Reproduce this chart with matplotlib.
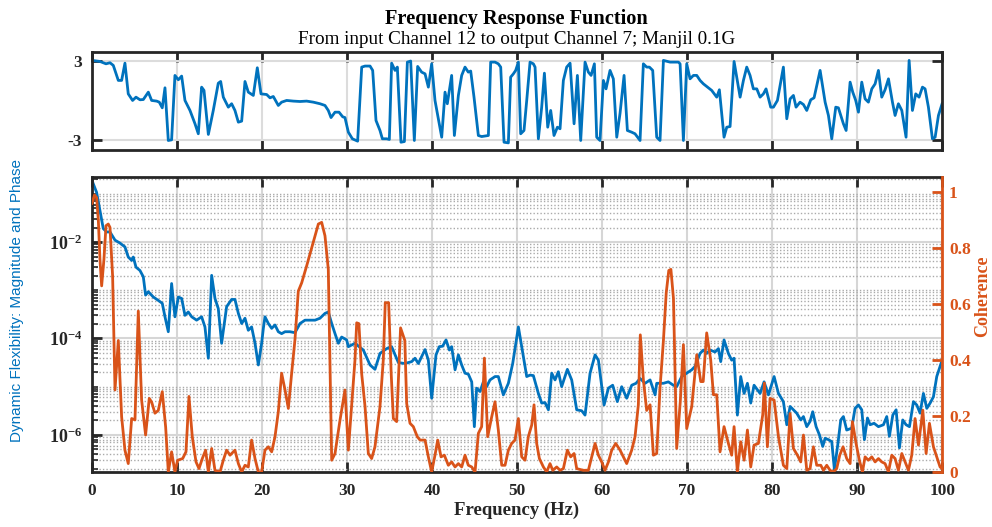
import numpy as np
import matplotlib.pyplot as plt
from matplotlib.ticker import FixedLocator, LogLocator, NullFormatter

# phase (rad) of the FRF, channel 12 -> channel 7
phase_f = [0, 0.94, 1.65, 2.12, 2.51, 3.1, 3.49, 3.88, 4.27, 4.78, 5.18, 5.65, 6.04,
           6.63, 7.02, 7.61, 7.92, 8.27, 8.59, 8.98, 9.37, 9.76, 10.16, 10.55, 10.94,
           11.53, 12.12, 12.51, 12.9, 13.18, 13.69, 14.27, 14.86, 15.14, 15.45, 16.04,
           16.43, 16.82, 17.22, 17.61, 18.0, 18.39, 18.98, 19.45, 19.88, 20.55, 20.94,
           21.33, 21.92, 22.31, 22.9, 23.69, 24.47, 25.25, 26.04, 26.82, 27.41, 27.8,
           28.12, 28.59, 29.06, 29.49, 29.76, 30.16, 30.63, 31.25, 31.73, 32.12, 32.71,
           33.02, 33.41, 33.88, 34.16, 34.67, 34.98, 35.25, 35.65, 35.92, 36.35, 36.75,
           37.1, 37.49, 37.92, 38.31, 38.78, 39.18, 39.57, 39.96, 40.35, 41.14, 41.53,
           41.8, 42.31, 42.63, 43.1, 43.49, 43.88, 44.27, 44.55, 44.94, 45.45, 45.84,
           46.63, 46.9, 47.41, 47.8, 48.08, 48.47, 48.98, 49.25, 49.57, 49.84, 50.16,
           50.43, 50.82, 51.14, 51.53, 51.92, 52.12, 52.51, 52.9, 53.22, 53.61, 53.96,
           54.35, 54.75, 55.06, 55.45, 55.84, 56.24, 56.71, 57.1, 57.49, 58.0, 58.39,
           58.71, 59.1, 59.37, 59.76, 60.16, 60.47, 60.94, 61.33, 61.73, 62.12, 62.59,
           62.98, 63.49, 63.88, 64.47, 64.86, 65.25, 65.57, 65.96, 66.43, 66.82, 67.22,
           67.53, 68.0, 68.59, 68.98, 69.18, 69.57, 69.96, 70.35, 70.75, 71.14, 71.53,
           71.92, 72.31, 72.9, 73.49, 73.8, 74.35, 74.67, 75.06, 75.53, 75.84, 76.24,
           76.63, 77.02, 77.41, 77.8, 78.2, 78.59, 78.98, 79.29, 79.84, 80.16, 80.63,
           81.33, 81.73, 82.12, 82.51, 82.82, 83.29, 83.69, 84.08, 84.55, 84.94, 85.65,
           86.24, 86.63, 87.02, 87.49, 87.8, 88.39, 88.71, 89.18, 89.49, 89.84, 90.16,
           90.55, 90.94, 91.33, 91.73, 92.12, 92.51, 92.9, 93.29, 93.69, 94.16, 94.47,
           94.86, 95.26, 95.76, 96.12, 96.51, 96.9, 97.29, 97.69, 98.0, 98.39, 98.86,
           99.18, 99.57, 100]
phase_val = [3.08, 3.0, 2.82, 2.9, 2.7, 1.56, 1.56, 2.87, 0.54, 0.04, 0.29, 0.09, 0.11,
             0.67, 0.04, -0.01, -0.09, -0.52, 1.0, -3.0, -2.95, 1.94, 1.61, 1.89, 0.04,
             -0.72, -1.73, -2.49, 1.05, 0.8, -2.54, -0.72, 1.35, 1.48, 0.29, -0.47,
             -0.21, -0.72, -1.61, -1.53, 1.48, 0.67, 0.42, 2.52, 0.54, 0.49, 0.24,
             0.34, -0.34, -0.09, 0.04, -0.01, -0.04, -0.01, -0.09, -0.21, -0.34, -0.72,
             -1.26, -0.85, -0.85, -1.2, -1.26, -2.37, -2.87, -3.05, 2.57, 2.65, 2.65,
             2.32, -1.48, -2.24, -2.87, -2.87, -2.92, 2.87, 2.32, 2.57, -3.13, -3.08,
             2.95, 3.03, -3.0, 2.62, 2.19, 2.06, 1.05, 2.82, 0.04, -2.75, 0.67,
             -0.21, 1.94, -2.62, 0.42, 1.94, 2.57, 2.19, 2.27, 0.29, -2.62, -2.7,
             -2.62, 2.95, 2.95, 2.82, 2.57, -3.13, -3.18, 1.81, 2.06, 2.32, 2.95,
             -2.49, -2.24, 0.04, 2.95, 2.82, 2.57, -2.87, -0.47, 2.11, -1.99, -0.72,
             -2.62, -1.99, -2.11, 1.56, 2.57, 2.87, -1.73, 1.94, -3.0, 2.95, 2.19,
             1.94, 2.82, -2.75, -3.0, 1.56, 0.92, 2.32, 1.68, -2.75, -0.92, 1.94,
             -2.24, -2.37, -2.49, -3.0, 2.82, 2.57, 2.57, 2.32, -2.75, -3.0, 3.08,
             3.03, 2.95, 2.95, 2.95, 2.82, -3.0, 2.82, 1.68, 1.94, 1.94, 1.56,
             1.3, 1.1, 0.8, 0.29, 0.85, -2.75, -1.99, -1.94, 3.0, 1.81, 0.29,
             1.56, 2.57, 1.94, 0.92, 0.92, 0.29, 0.54, 0.92, -0.47, -0.47, 0.04,
             2.57, -1.35, 0.16, 0.42, -0.47, -0.09, -0.27, -0.72, 0.09, 0.24, 2.32,
             -0.09, -1.1, -2.87, -0.47, -0.52, -1.73, -2.24, 1.43, 0.67, 0.04, -0.85,
             1.43, 0.16, -0.09, 0.92, 1.3, 2.32, 0.29, 0.85, 1.68, -0.09, -1.1,
             -0.21, -0.72, -2.75, 3.08, -0.72, 0.54, 0.29, 1.05, 0.92, -0.47, -2.87,
             -2.75, -1.1, -0.21]

# magnitude, stored as log10 of the dynamic flexibility
mag_f = [0, 0.55, 0.94, 1.33, 1.73, 2.12, 2.71, 3.29, 3.88, 4.27, 4.67, 4.86, 5.18,
         5.65, 6.04, 6.31, 6.63, 7.22, 7.8, 8.27, 8.59, 8.98, 9.37, 9.76, 10.16, 10.55,
         10.94, 11.33, 11.73, 12.31, 12.9, 13.29, 13.69, 14.08, 14.47, 14.86, 15.25,
         15.84, 16.43, 16.82, 17.22, 17.61, 18.0, 18.39, 18.78, 19.18, 19.57, 19.96,
         20.16, 20.35, 20.75, 21.14, 21.53, 21.92, 22.31, 22.71, 23.29, 23.88, 24.47,
         25.06, 25.65, 26.24, 26.82, 27.41, 27.8, 28.2, 28.59, 28.98, 29.37, 29.96,
         30.16, 30.94, 31.92, 32.71, 33.29, 33.88, 34.67, 35.25, 36.04, 36.82, 37.61,
         38.0, 38.39, 39.18, 39.57, 39.96, 40.47, 40.86, 41.25, 41.65, 42.04, 42.31,
         42.71, 43.1, 43.49, 43.88, 44.27, 44.67, 44.98, 45.25, 45.65, 46.04, 46.43,
         46.82, 47.41, 47.8, 48.39, 48.98, 49.49, 50.16, 51.14, 51.53, 51.92, 52.51,
         52.9, 53.29, 53.69, 54.08, 54.47, 54.86, 55.25, 55.92, 56.43, 57.02, 57.61,
         58.0, 58.59, 59.18, 59.57, 60.24, 60.75, 61.25, 61.8, 62.31, 62.9, 63.49,
         64.0, 64.47, 65.06, 65.65, 66.24, 66.43, 67.22, 67.8, 68.39, 68.78, 69.37,
         69.96, 70.55, 70.94, 71.53, 71.92, 72.31, 72.71, 73.29, 73.69, 73.96, 74.35,
         74.86, 75.25, 75.53, 75.92, 76.31, 76.71, 77.1, 77.49, 77.88, 78.59, 79.06,
         79.57, 80.24, 80.75, 81.33, 81.73, 82.12, 82.9, 83.37, 83.69, 84.08, 84.47,
         84.78, 85.18, 85.57, 85.96, 86.24, 86.63, 87.02, 87.33, 87.73, 88.08, 88.39,
         88.78, 89.37, 89.76, 90.16, 90.55, 90.86, 91.22, 91.53, 92.0, 92.51, 93.1,
         93.49, 93.8, 94.2, 94.59, 94.98, 95.37, 95.76, 96.16, 96.63, 97.02, 97.41,
         97.8, 98.2, 98.59, 98.98, 99.37, 100]
mag_log10 = [-0.72, -0.97, -1.34, -1.72, -1.79, -1.79, -1.96, -2.02, -2.1, -2.31, -2.38,
             -2.31, -2.52, -2.59, -2.72, -3.1, -3.03, -3.14, -3.21, -3.27, -3.55, -3.86,
             -2.86, -3.55, -3.14, -3.17, -3.52, -3.45, -3.55, -3.62, -3.55, -3.76, -4.41,
             -2.69, -3.17, -3.38, -4.1, -3.34, -3.19, -3.19, -3.48, -3.69, -3.58, -3.83,
             -3.76, -4.1, -4.55, -4.1, -3.79, -3.55, -3.69, -3.79, -3.72, -3.86, -3.9,
             -3.86, -3.86, -3.88, -3.69, -3.62, -3.62, -3.62, -3.58, -3.48, -3.45, -3.69,
             -3.9, -4.1, -3.97, -4.03, -4.17, -4.1, -4.24, -4.55, -4.64, -4.31, -4.21,
             -4.17, -4.5, -4.52, -4.48, -4.41, -4.52, -4.23, -4.45, -5.24, -4.34, -4.17,
             -4.16, -4.03, -4.24, -4.17, -4.65, -4.34, -4.55, -4.72, -4.74, -4.9, -5.83,
             -5.03, -5.1, -4.9, -5.0, -4.86, -4.79, -4.79, -5.17, -4.93, -4.52, -3.76,
             -4.79, -4.76, -4.77, -5.14, -5.34, -5.33, -5.48, -4.72, -4.86, -4.69, -5.0,
             -4.64, -4.86, -5.48, -5.5, -5.59, -4.72, -4.34, -4.45, -5.38, -5.03, -4.97,
             -5.31, -5.0, -5.24, -4.97, -4.93, -4.83, -4.93, -4.86, -5.17, -4.93, -4.93,
             -4.9, -4.97, -5.0, -4.79, -4.72, -4.65, -4.58, -4.31, -4.24, -4.31, -4.24,
             -4.28, -4.21, -4.48, -4.03, -4.31, -4.45, -4.41, -5.59, -4.79, -5.14, -4.93,
             -5.34, -4.97, -5.14, -4.9, -5.17, -4.79, -5.14, -5.31, -5.79, -5.41, -5.55,
             -5.69, -5.62, -5.83, -5.72, -5.52, -5.83, -6.0, -6.24, -6.07, -6.1, -6.14,
             -6.72, -6.2, -5.69, -5.62, -5.9, -5.86, -5.45, -5.38, -5.48, -6.1, -5.65,
             -5.79, -5.76, -5.83, -5.79, -5.62, -6.03, -5.59, -5.48, -6.27, -5.69, -5.79,
             -5.83, -5.31, -5.38, -5.55, -5.14, -5.45, -5.34, -5.21, -4.79, -4.45]

# ordinary coherence
coh_f = [0, 0.3, 0.55, 0.75, 0.94, 1.14, 1.41, 1.65, 1.92, 2.12, 2.43, 2.71, 3.1, 3.49,
         3.88, 4.27, 4.67, 5.06, 5.45, 5.84, 6.31, 6.74, 7.02, 7.41, 7.8, 8.27, 8.67,
         8.98, 9.37, 9.76, 10.08, 10.67, 11.06, 11.41, 11.8, 12.24, 12.59, 12.98, 13.37,
         13.69, 14.08, 14.47, 15.06, 15.45, 15.84, 16.24, 16.82, 17.22, 17.61, 18.0,
         18.39, 18.78, 19.18, 19.57, 19.96, 20.35, 20.75, 21.14, 21.53, 21.92, 22.31,
         22.71, 23.1, 23.49, 23.88, 24.27, 24.67, 25.25, 25.84, 26.24, 26.63, 27.02,
         27.41, 27.8, 28.2, 28.59, 29.18, 29.76, 30.16, 30.94, 31.14, 31.4, 31.73,
         32.12, 32.51, 32.9, 33.29, 33.88, 34.27, 34.5, 34.9, 35.2, 35.45, 35.84, 36.3,
         36.8, 37.02, 37.41, 37.8, 38.27, 38.59, 39.18, 39.57, 39.96, 40.35, 40.67,
         41.06, 41.45, 41.92, 42.31, 42.71, 43.1, 43.49, 43.88, 44.27, 44.67, 45.06,
         45.45, 45.84, 46.16, 46.55, 47.02, 47.41, 47.8, 48.2, 48.59, 48.98, 49.37,
         49.76, 50.16, 50.55, 50.94, 51.33, 51.73, 52.0, 52.31, 52.63, 53.1, 53.49,
         53.88, 54.2, 54.67, 55.06, 55.45, 55.92, 56.31, 56.71, 57.02, 57.8, 58.39,
         58.78, 59.18, 59.57, 59.96, 60.35, 60.75, 61.14, 61.61, 62.12, 62.51, 62.9,
         63.49, 63.88, 64.27, 64.5, 64.86, 65.25, 65.65, 66.04, 66.43, 66.82, 67.22,
         67.55, 67.85, 68.1, 68.4, 68.78, 69.2, 69.57, 69.96, 70.55, 71.14, 71.61, 71.9,
         72.31, 72.78, 73.1, 73.49, 73.88, 74.35, 74.86, 75.25, 75.53, 75.92, 76.31,
         76.71, 77.1, 77.49, 77.88, 78.39, 78.9, 79.1, 79.45, 79.76, 80.24, 80.75,
         81.33, 81.73, 82.12, 82.51, 82.98, 83.37, 83.69, 84.08, 84.47, 84.86, 85.25,
         85.73, 86.04, 86.43, 86.82, 87.2, 87.6, 87.96, 88.35, 88.78, 89.18, 89.45,
         89.88, 90.27, 90.63, 90.94, 91.33, 91.73, 92.12, 92.51, 92.9, 93.29, 93.69,
         94.08, 94.47, 94.86, 95.26, 95.65, 96.04, 96.43, 96.82, 97.22, 97.73, 98.12,
         98.51, 98.98, 99.37, 99.76, 100]
coh_val = [0.96, 0.99, 0.98, 0.9, 0.76, 0.665, 0.76, 0.88, 0.886, 0.874, 0.7, 0.293, 0.47,
           0.197, 0.078, 0.03, 0.191, 0.186, 0.575, 0.257, 0.132, 0.263, 0.25, 0.21, 0.22,
           0.287, 0.16, 0.0, 0.072, 0.0, 0.042, 0.048, 0.072, 0.27, 0.126, 0.036, 0.012,
           0.048, 0.078, 0.0, 0.084, 0.006, 0.0, 0.042, 0.078, 0.06, 0.078, 0.03, 0.0,
           0.024, 0.018, 0.114, 0.048, 0.0, 0.0, 0.078, 0.09, 0.072, 0.126, 0.215, 0.353,
           0.293, 0.227, 0.353, 0.473, 0.646, 0.676, 0.736, 0.8, 0.844, 0.886, 0.892,
           0.844, 0.724, 0.042, 0.066, 0.186, 0.293, 0.078, 0.401, 0.533, 0.53, 0.35,
           0.234, 0.066, 0.048, 0.09, 0.234, 0.401, 0.605, 0.605, 0.35, 0.191, 0.18, 0.515,
           0.47, 0.245, 0.174, 0.162, 0.126, 0.114, 0.114, 0.054, 0.0, 0.06, 0.114,
           0.054, 0.06, 0.024, 0.036, 0.018, 0.03, 0.018, 0.06, 0.024, 0.018, 0.0,
           0.138, 0.162, 0.407, 0.126, 0.197, 0.251, 0.15, 0.024, 0.024, 0.078, 0.102,
           0.114, 0.191, 0.054, 0.042, 0.126, 0.168, 0.24, 0.102, 0.048, 0.018, 0.0,
           0.03, 0.006, 0.018, 0.006, 0.012, 0.078, 0.054, 0.066, 0.012, 0.006, 0.006,
           0.054, 0.102, 0.06, 0.036, 0.006, 0.036, 0.078, 0.102, 0.078, 0.054, 0.03,
           0.078, 0.126, 0.24, 0.49, 0.33, 0.22, 0.24, 0.06, 0.066, 0.3, 0.47,
           0.64, 0.72, 0.724, 0.62, 0.084, 0.25, 0.455, 0.155, 0.234, 0.419, 0.323, 0.323,
           0.497, 0.401, 0.276, 0.276, 0.072, 0.162, 0.102, 0.06, 0.162, 0.0, 0.108,
           0.042, 0.15, 0.018, 0.096, 0.102, 0.204, 0.318, 0.09, 0.263, 0.257, 0.126,
           0.024, 0.012, 0.209, 0.084, 0.06, 0.036, 0.132, 0.006, 0.012, 0.09, 0.024,
           0.024, 0.006, 0.024, 0.006, 0.0, 0.012, 0.06, 0.09, 0.048, 0.03, 0.18,
           0.102, 0.042, 0.0, 0.054, 0.042, 0.054, 0.036, 0.048, 0.036, 0.03, 0.0,
           0.06, 0.048, 0.006, 0.066, 0.036, 0.006, 0.06, 0.191, 0.096, 0.221, 0.066,
           0.174, 0.09, 0.054, 0.018, 0.012]

blue = '#0072BD'
orange = '#D95319'
dark = '#262626'

plt.rcParams['font.family'] = 'Liberation Serif'
plt.rcParams['mathtext.fontset'] = 'custom'
plt.rcParams['mathtext.rm'] = 'Liberation Serif'
plt.rcParams['mathtext.bf'] = 'Liberation Serif:bold'
plt.rcParams['axes.unicode_minus'] = False

fig = plt.figure(figsize=(9.92, 5.27), dpi=100)
ax_ph = fig.add_axes([0.0927, 0.7154, 0.857, 0.186])
ax_mag = fig.add_axes([0.0927, 0.1044, 0.857, 0.5597])
ax_coh = ax_mag.twinx()

# --- phase panel ---
ax_ph.plot(phase_f, phase_val, color=blue, lw=2)
ax_ph.set_xlim(0, 100)
ax_ph.set_ylim(-3.72, 3.72)
ax_ph.set_xticks(np.arange(0, 101, 10))
ax_ph.set_xticklabels([])
ax_ph.set_yticks([-3, 3])
ax_ph.set_yticklabels(['-3', '3'], fontsize=12.5, fontweight='bold')
ax_ph.tick_params(direction='in', top=True, right=True, length=7, width=2,
                  color=dark, labelcolor=dark, pad=7)
ax_ph.grid(True, color='#dcdcdc', lw=1.5)
for sp in ax_ph.spines.values():
    sp.set_linewidth(2)
    sp.set_color(dark)

# --- magnitude panel (left, log) ---
ax_mag.plot(mag_f, 10.0 ** np.array(mag_log10), color=blue, lw=2)
ax_mag.set_yscale('log')
ax_mag.set_xlim(0, 100)
ax_mag.set_ylim(10 ** -6.77, 10 ** -0.65)
ax_mag.set_xticks(np.arange(0, 101, 10))
ax_mag.set_xticklabels([str(v) for v in range(0, 101, 10)], fontsize=12.5, fontweight='bold')
ax_mag.yaxis.set_major_locator(FixedLocator([1e-6, 1e-4, 1e-2]))
ax_mag.set_yticklabels([r'$\mathbf{10^{-6}}$', r'$\mathbf{10^{-4}}$', r'$\mathbf{10^{-2}}$'],
                       fontsize=13)
ax_mag.yaxis.set_minor_locator(LogLocator(base=10, subs=np.arange(1, 10) * 1.0, numticks=30))
ax_mag.yaxis.set_minor_formatter(NullFormatter())
ax_mag.tick_params(axis='both', which='major', direction='in', top=True, length=7, width=2,
                   color=dark, labelcolor=dark)
ax_mag.tick_params(axis='x', pad=8)
ax_mag.tick_params(axis='y', which='major', pad=7)
ax_mag.tick_params(axis='y', which='minor', direction='in', length=4, width=1.2, color=dark)
ax_mag.grid(which='major', axis='both', color='#d6d6d6', lw=1.5)
ax_mag.grid(which='minor', axis='y', color='#aaaaaa', lw=1.0, ls=(0, (1, 1.5)))
ax_mag.set_axisbelow(True)
ax_mag.spines['right'].set_visible(False)
for side in ['left', 'top', 'bottom']:
    ax_mag.spines[side].set_linewidth(2)
    ax_mag.spines[side].set_color(dark)
ax_mag.set_xlabel('Frequency (Hz)', fontsize=13.5, fontweight='bold', color=dark, labelpad=2)

# --- coherence (right axis) ---
ax_coh.plot(coh_f, coh_val, color=orange, lw=2)
ax_coh.set_ylim(0, 1.054)
ax_coh.set_yticks([0, 0.2, 0.4, 0.6, 0.8, 1])
ax_coh.set_yticklabels(['0', '0.2', '0.4', '0.6', '0.8', '1'], fontsize=12.5, fontweight='bold')
ax_coh.tick_params(axis='y', direction='in', length=7, width=2, colors=orange, pad=5)
for side in ['left', 'top', 'bottom']:
    ax_coh.spines[side].set_visible(False)
ax_coh.spines['right'].set_color(orange)
ax_coh.spines['right'].set_linewidth(2)

# axis titles placed in figure coordinates
fig.text(983 / 992, 1 - 296 / 527, 'Coherence', rotation=90, ha='center', va='center',
         fontsize=13, fontweight='bold', color=orange)
fig.text(17 / 992, 1 - 300 / 527, 'Dynamic Flexibility: Magnitude and Phase', rotation=90,
         ha='center', va='center', color=blue, fontsize=11, family='Liberation Sans')

fig.text(0.521, 1 - 19 / 527, 'Frequency Response Function', ha='center', va='center',
         fontsize=14.7, fontweight='bold', color='black')
fig.text(0.521, 1 - 40 / 527, 'From input Channel 12 to output Channel 7; Manjil 0.1G',
         ha='center', va='center', fontsize=13.8, color='black')

fig.savefig('out.png', dpi=100)
